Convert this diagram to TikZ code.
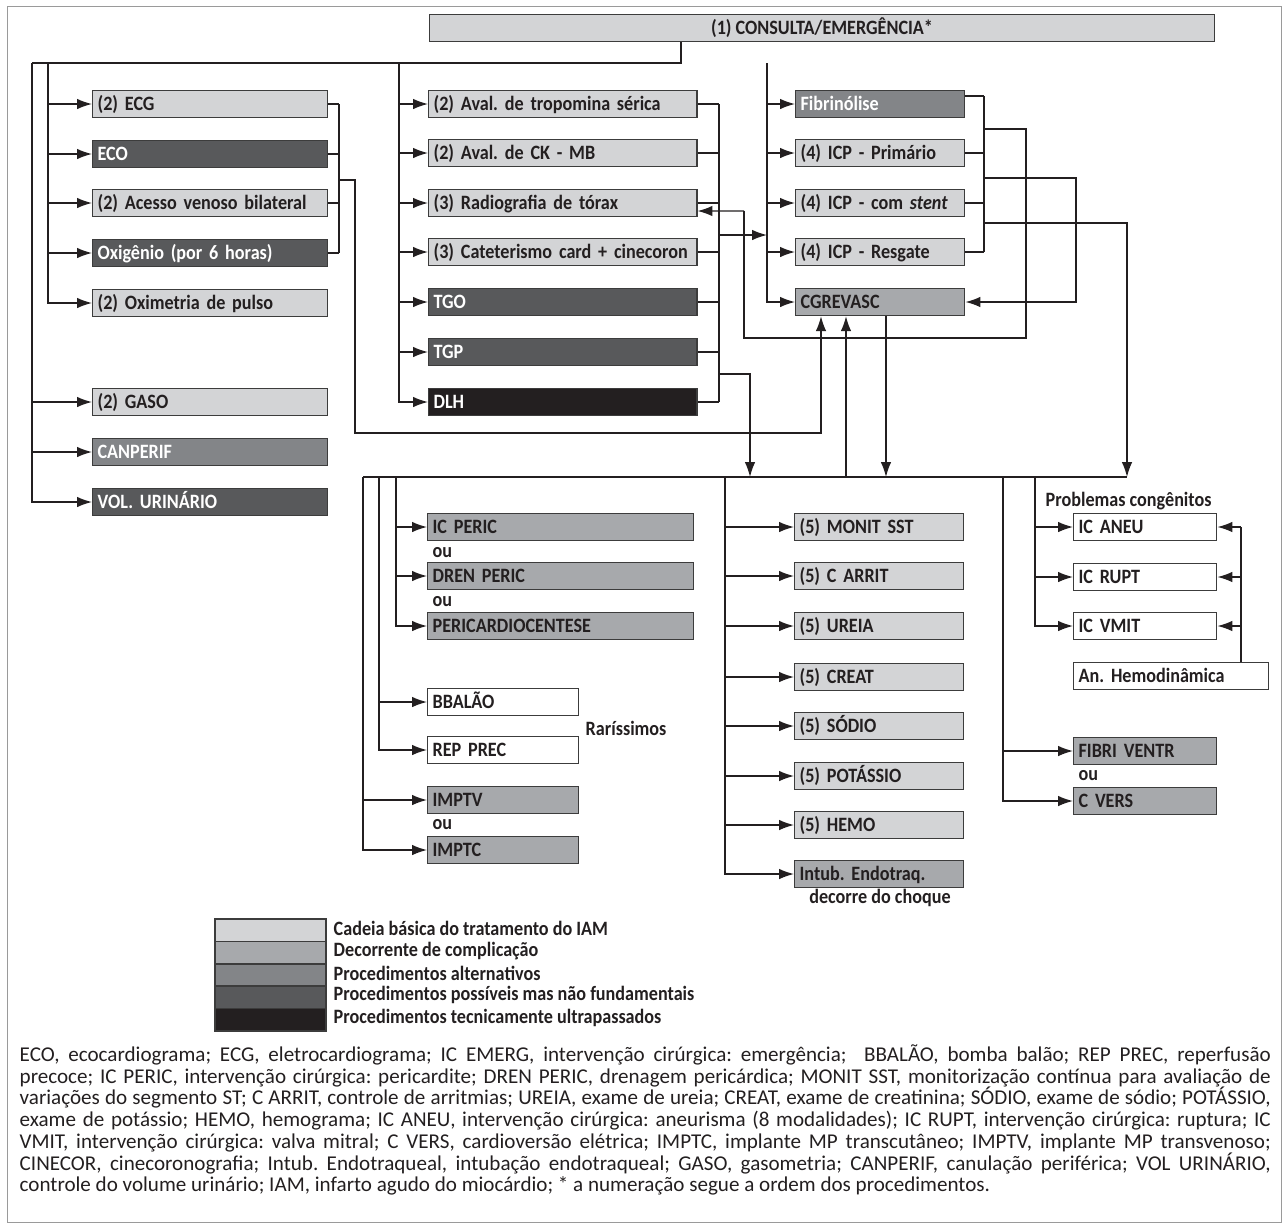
\documentclass[tikz,border=0pt]{standalone}
\usepackage{fontspec}
\setmainfont{Carlito}
\newfontfamily\lblfamily[FakeStretch=0.89]{Carlito}
\usepackage{tikz}
\usetikzlibrary{shapes,arrows.meta}
\definecolor{cBasica}{HTML}{D3D4D6}
\definecolor{cCompl}{HTML}{A7A9AC}
\definecolor{cAlter}{HTML}{838588}
\definecolor{cPossivel}{HTML}{58595B}
\definecolor{cUltra}{HTML}{231F20}
\definecolor{linha}{HTML}{231F20}
\definecolor{borda}{HTML}{3C3C3C}
\definecolor{moldura}{HTML}{9A9A9A}
\frenchspacing
\newcommand\lbl{\lblfamily\fontsize{11.6}{13}\selectfont\bfseries}
\newcommand\capfont{\fontsize{12}{12.35}\selectfont}

\begin{document}
\begin{tikzpicture}[x=0.02cm,y=-0.02cm,line width=0.8pt,color=linha,
                    >={Latex[length=8.5pt,width=6pt]},
  box/.style={draw=borda,line width=0.8pt,anchor=west,inner xsep=2.8pt,inner ysep=0pt,
              minimum height=0.54cm,align=left,text height=7.4pt,text depth=0pt,font=\lbl},
  basica/.style={box,fill=cBasica,text=linha},
  compl/.style={box,fill=cCompl,text=linha},
  alter/.style={box,fill=cAlter,text=white},
  possivel/.style={box,fill=cPossivel,text=white},
  ultra/.style={box,fill=cUltra,text=white},
  branco/.style={box,fill=white,text=linha},
  wl/.style={text width=128pt},
  wm/.style={text width=147pt},
  wr/.style={text width=90.6pt},
  wp/.style={text width=145.8pt},
  ws/.style={text width=80.3pt},
  wc/.style={text width=75.8pt},
  wh/.style={text width=105.4pt},
  txt/.style={font=\lbl,inner sep=0pt,text=linha},
  sw/.style={draw=borda,line width=0.8pt,minimum width=63.2pt,minimum height=12.7pt,inner sep=0pt}]
  \useasboundingbox (0,0) rectangle (1287,1228);
  \draw[moldura,line width=0.5pt] (7,6) rectangle (1281,1222);

  \node[basica,anchor=center,minimum width=447pt,align=center] (cons) at (822,28) {(1) CONSULTA/EMERGÊNCIA*};

  % coluna esquerda
  \node[basica,wl]   (ecg)  at (92,104) {(2) ECG};
  \node[possivel,wl] (eco)  at (92,154) {ECO};
  \node[basica,wl]   (aces) at (92,203) {\mbox{(2) Acesso venoso bilateral}};
  \node[possivel,wl] (oxig) at (92,253) {Oxigênio (por 6 horas)};
  \node[basica,wl]   (oxim) at (92,303) {(2) Oximetria de pulso};
  \node[basica,wl]   (gaso) at (92,402) {(2) GASO};
  \node[alter,wl]    (canp) at (92,452) {CANPERIF};
  \node[possivel,wl] (vol)  at (92,502) {VOL. URINÁRIO};

  % coluna do meio
  \node[basica,wm]   (trop) at (428,104) {(2) Aval. de tropomina sérica};
  \node[basica,wm]   (ckmb) at (428,153) {(2) Aval. de CK - MB};
  \node[basica,wm]   (rx)   at (428,203) {(3) Radiografia de tórax};
  \node[basica,wm]   (cat)  at (428,252) {\mbox{(3) Cateterismo card + cinecoron}};
  \node[possivel,wm] (tgo)  at (428,302) {TGO};
  \node[possivel,wm] (tgp)  at (428,352) {TGP};
  \node[ultra,wm]    (dlh)  at (428,402) {DLH};

  % coluna direita
  \node[alter,wr]  (fib)  at (795,104) {Fibrinólise};
  \node[basica,wr] (icp1) at (795,153) {(4) ICP - Primário};
  \node[basica,wr] (icp2) at (795,203) {(4) ICP - com \textit{stent}};
  \node[basica,wr] (icp3) at (795,252) {(4) ICP - Resgate};
  \node[compl,wr]  (cgr)  at (795,302) {CGREVASC};

  % complicacoes
  \node[compl,wp]  (icper) at (427,527) {IC PERIC};
  \node[compl,wp]  (drper) at (427,576) {DREN PERIC};
  \node[compl,wp]  (peric) at (427,626) {PERICARDIOCENTESE};
  \node[branco,ws] (bbal)  at (427,702) {BBALÃO};
  \node[branco,ws] (rep)   at (427,750) {REP PREC};
  \node[compl,ws]  (imptv) at (427,800) {IMPTV};
  \node[compl,ws]  (imptc) at (427,850) {IMPTC};
  \node[txt,anchor=west] (ou1) at (432,553) {ou};
  \node[txt,anchor=west] (ou2) at (432,602) {ou};
  \node[txt,anchor=west] (ou3) at (432,825) {ou};
  \node[txt,anchor=west] (rar) at (585,728) {Raríssimos};

  \node[basica,wr] (monit) at (794,527) {(5) MONIT SST};
  \node[basica,wr] (carr)  at (794,576) {(5) C ARRIT};
  \node[basica,wr] (ureia) at (794,626) {(5) UREIA};
  \node[basica,wr] (creat) at (794,677) {(5) CREAT};
  \node[basica,wr] (sod)   at (794,726) {(5) SÓDIO};
  \node[basica,wr] (pot)   at (794,776) {(5) POTÁSSIO};
  \node[basica,wr] (hemo)  at (794,825) {(5) HEMO};
  \node[compl,wr]  (intub) at (794,874) {Intub. Endotraq.};
  \node[txt] (choq) at (880,898) {decorre do choque};

  \node[txt,anchor=west] (prob) at (1045,501) {Problemas congênitos};
  \node[branco,wc] (aneu)  at (1073,527) {IC ANEU};
  \node[branco,wc] (rupt)  at (1073,577) {IC RUPT};
  \node[branco,wc] (vmit)  at (1073,626) {IC VMIT};
  \node[branco,wh] (hemod) at (1073,676) {An. Hemodinâmica};
  \node[compl,wc]  (fibv)  at (1073,751) {FIBRI VENTR};
  \node[compl,wc]  (cvers) at (1073,801) {C VERS};
  \node[txt,anchor=west] (ou4) at (1078,776) {ou};

  % troncos
  \coordinate (t0) at (681,63);
  \coordinate (ta) at (32,63);
  \coordinate (tb) at (48,63);
  \coordinate (tc) at (399,63);
  \coordinate (td) at (767,63);
  \draw (cons.south -| t0) -- (t0) -- (ta);
  \draw[->] (ta) |- (vol);
  \foreach \n in {gaso,canp} \draw[->] (ta |- \n) -- (\n);
  \draw[->] (tb) |- (oxim);
  \foreach \n in {ecg,eco,aces,oxig} \draw[->] (tb |- \n) -- (\n);
  \draw[->] (tc) |- (dlh);
  \foreach \n in {trop,ckmb,rx,cat,tgo,tgp} \draw[->] (tc |- \n) -- (\n);
  \draw[->] (td) |- (cgr);
  \foreach \n in {fib,icp1,icp2,icp3} \draw[->] (td |- \n) -- (\n);

  % chaves
  \coordinate (bl) at (339,180);
  \foreach \n in {ecg,eco,aces,oxig} \draw (\n) -- (\n -| bl);
  \draw (ecg -| bl) -- (oxig -| bl);
  \coordinate (cA) at ([xshift=0.52cm]cgr.south west);
  \coordinate (cB) at ([xshift=1.02cm]cgr.south west);
  \coordinate (cC) at ([xshift=1.82cm]cgr.south west);
  \draw[->] (bl) -- (355,180) -- (355,433) -| (cA);

  \coordinate (m1) at (719,235);
  \coordinate (m2) at (719,374);
  \foreach \n in {trop,ckmb,rx,cat,tgo,tgp,dlh} \draw (\n) -- (\n -| m1);
  \draw (trop -| m1) -- (dlh -| m1);
  \draw[->] (m1) -- (td |- m1);

  \coordinate (fibr) at ([yshift=0.16cm]fib.east);
  \coordinate (r1) at (984,129);
  \coordinate (r2) at (984,178);
  \coordinate (r3) at (984,223);
  \coordinate (rv) at (744,211);
  \draw (fibr) -- (fibr -| r1);
  \foreach \n in {icp1,icp2,icp3} \draw (\n) -- (\n -| r1);
  \draw (fibr -| r1) -- (icp3 -| r1);
  \draw (r1) -- (1026,129) -- (1026,338) -- (744,338) -- (rv);
  \draw[->] (rv) -- ([yshift=-0.16cm]rx.east);
  \draw[->] (r2) -- (1076,178) |- (cgr);

  % barramento inferior
  \coordinate (bw) at (363,477);
  \coordinate (be) at (1127,477);
  \coordinate (cD) at (750,477);
  \draw (bw) -- (be);
  \draw[->] (r3) -| (be);
  \draw[->] (m2) -| (cD);
  \draw[->] (cC) -- (cC |- bw);
  \draw[->] (cB |- bw) -- (cB);

  \coordinate (l1) at (363,477);
  \coordinate (l2) at (379,477);
  \coordinate (l3) at (396,477);
  \coordinate (l4) at (725,477);
  \coordinate (l5) at (1003,477);
  \coordinate (l6) at (1035,477);
  \draw[->] (l3) |- (peric);
  \foreach \n in {icper,drper} \draw[->] (l3 |- \n) -- (\n);
  \draw[->] (l2) |- (rep);
  \draw[->] (l2 |- bbal) -- (bbal);
  \draw[->] (l1) |- (imptc);
  \draw[->] (l1 |- imptv) -- (imptv);
  \draw[->] (l4) |- (intub);
  \foreach \n in {monit,carr,ureia,creat,sod,pot,hemo} \draw[->] (l4 |- \n) -- (\n);
  \draw[->] (l5) |- (cvers);
  \draw[->] (l5 |- fibv) -- (fibv);
  \draw[->] (l6) |- (vmit);
  \foreach \n in {aneu,rupt} \draw[->] (l6 |- \n) -- (\n);

  \coordinate (hx) at (1241,527);
  \draw (hemod.north -| hx) -- (hx);
  \foreach \n in {aneu,rupt,vmit} \draw[->] (hx |- \n) -- (\n);

  % legenda
  \foreach \c/\t [count=\i] in {cBasica/Cadeia básica do tratamento do IAM,
                                cCompl/Decorrente de complicação,
                                cAlter/Procedimentos alternativos,
                                cPossivel/Procedimentos possíveis mas não fundamentais,
                                cUltra/Procedimentos tecnicamente ultrapassados}
  {
    \node[sw,fill=\c] (sw\i) at (270.5,{907.8+22.4*\i}) {};
    \node[txt,anchor=west] (lg\i) at (333,{905.8+22.4*\i}) {\t};
  }

  \node[anchor=north west,inner sep=0pt,text width=712pt,align=justify,font=\capfont] (nota) at (19,1044)
  {ECO, ecocardiograma; ECG, eletrocardiograma; IC EMERG, intervenção cirúrgica: emergência;\ \ BBALÃO, bomba balão; REP PREC, reperfusão\linebreak
  precoce; IC PERIC, intervenção cirúrgica: pericardite; DREN PERIC, drenagem pericárdica; MONIT SST, monitorização contínua para avaliação de\linebreak
  variações do segmento ST; C ARRIT, controle de arritmias; UREIA, exame de ureia; CREAT, exame de creatinina; SÓDIO, exame de sódio; POTÁSSIO,\linebreak
  exame de potássio; HEMO, hemograma; IC ANEU, intervenção cirúrgica: aneurisma (8 modalidades); IC RUPT, intervenção cirúrgica: ruptura; IC\linebreak
  VMIT, intervenção cirúrgica: valva mitral; C VERS, cardioversão elétrica; IMPTC, implante MP transcutâneo; IMPTV, implante MP transvenoso;\linebreak
  CINECOR, cinecoronografia; Intub. Endotraqueal, intubação endotraqueal; GASO, gasometria; CANPERIF, canulação periférica; VOL URINÁRIO,\linebreak
  controle do volume urinário; IAM, infarto agudo do miocárdio; * a numeração segue a ordem dos procedimentos.};
\end{tikzpicture}
\end{document}
